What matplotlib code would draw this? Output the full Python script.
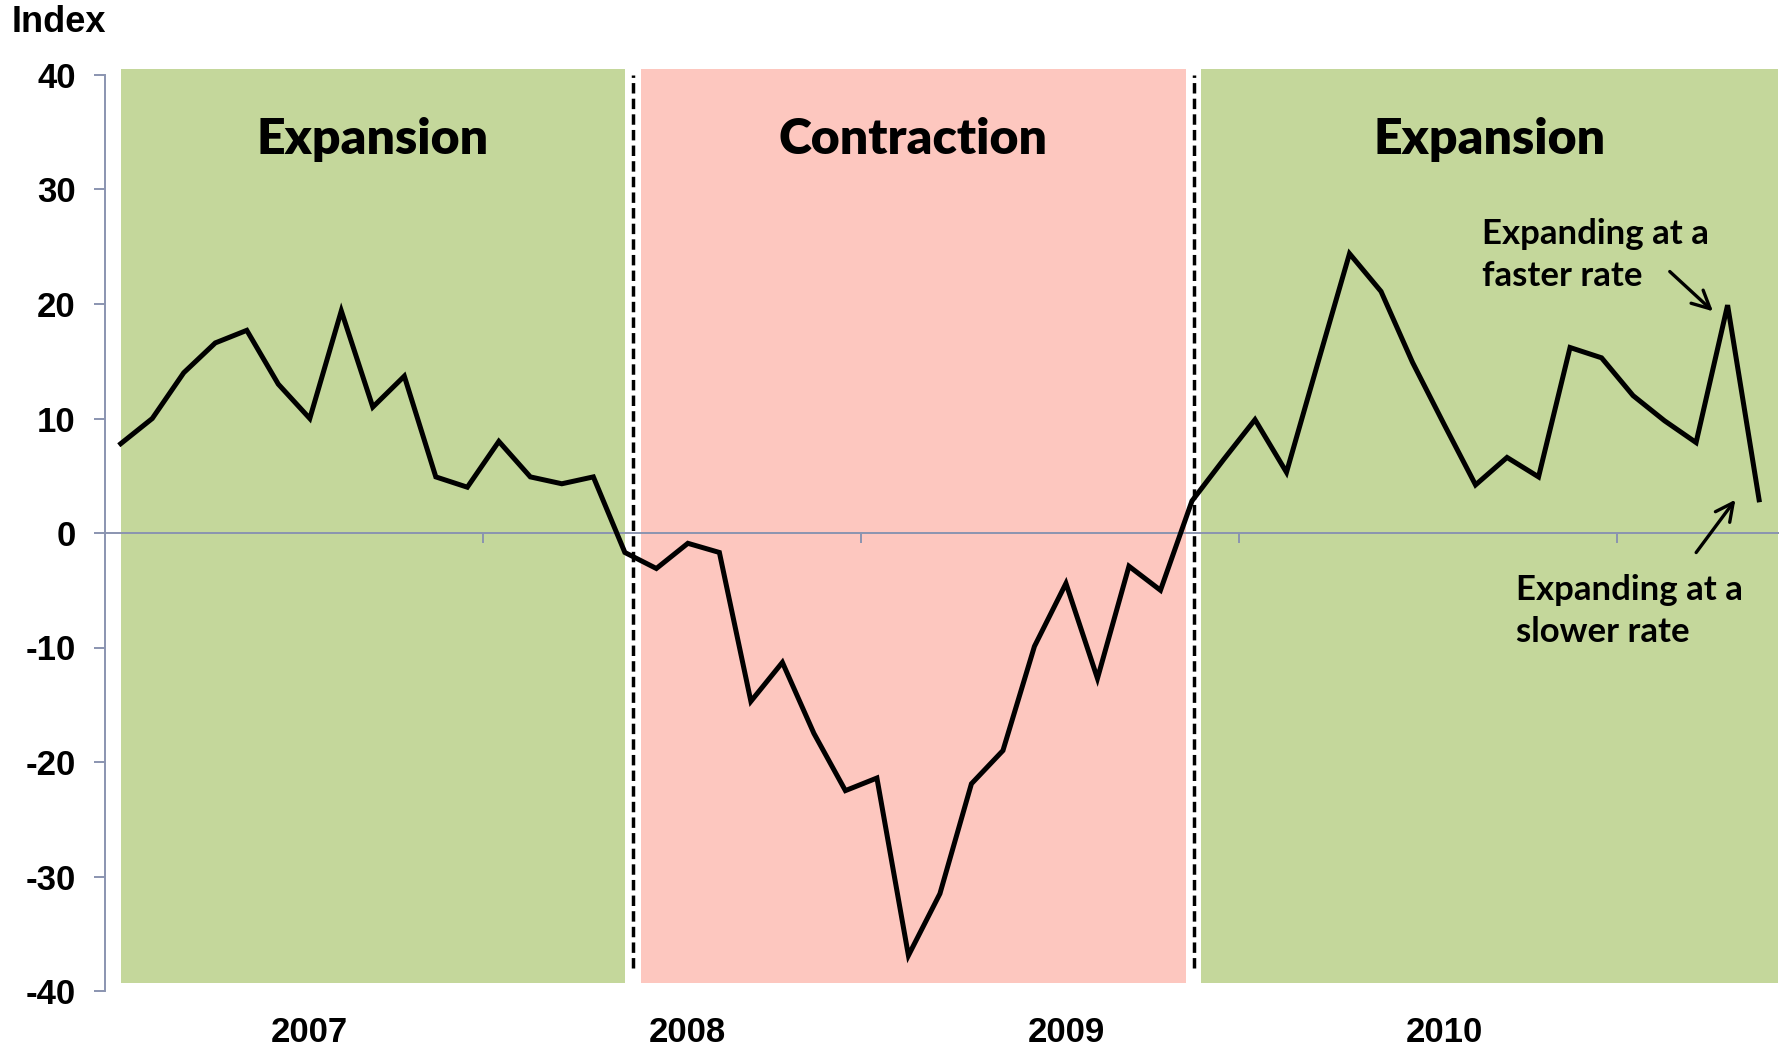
import matplotlib
matplotlib.use("Agg")
import matplotlib.pyplot as plt
from matplotlib.patches import Rectangle
from matplotlib import transforms

# ── data: monthly index values, mid-2006 .. late 2010 ──────────────
index_values = [
    7.8, 10.0, 14.0, 16.6, 17.7, 13.0, 10.0, 19.4, 11.0, 13.7, 4.9, 4.0,
    8.0, 4.9, 4.3, 4.9, -1.7, -3.1, -0.9, -1.7, -14.7, -11.3, -17.5, -22.5,
    -21.4, -36.9, -31.5, -21.9, -19.0, -9.9, -4.4, -12.7, -2.9, -5.0, 2.8, 6.4,
    9.9, 5.3, 14.9, 24.4, 21.1, 14.9, 9.5, 4.2, 6.6, 4.9, 16.2, 15.3,
    12.0, 9.8, 7.9, 19.9, 2.9,
]
year_labels = ["2007", "2008", "2009", "2010"]
year_label_pos = [6, 18, 30, 42]
year_ticks = [11.5, 23.5, 35.5, 47.5]

# phases: (start, end, label)
phases = [(0.0, 16.0, "Expansion"), (16.5, 33.8, "Contraction"), (34.3, 52.6, "Expansion")]
phase_breaks = [16.25, 34.05]

GREEN = "#C4D79B"
RED = "#FDC7BF"
AXIS = "#8A94B0"
NUM_FONT = ["Liberation Sans Narrow", "Liberation Sans", "DejaVu Sans"]

plt.rcParams["font.family"] = ["Lato", "DejaVu Sans"]
plt.rcParams["axes.unicode_minus"] = False

fig = plt.figure(figsize=(17.83, 10.5), dpi=100)
ax = fig.add_axes([105 / 1783, 59 / 1050, 1673 / 1783, 916 / 1050])

x = list(range(len(index_values)))

for start, end, label in phases:
    color = RED if label == "Contraction" else GREEN
    ax.add_patch(Rectangle((start, -39.3), end - start, 79.8, facecolor=color,
                           edgecolor="none", clip_on=False, zorder=0))
    ax.text((start + end) / 2, 34.4, label, ha="center", va="center",
            fontsize=36, fontweight="heavy", zorder=3)

for b in phase_breaks:
    ax.plot([b, b], [-38, 40], color="black", linestyle=(0, (3.0, 1.5)),
            linewidth=2.5, clip_on=False, zorder=2)

ax.plot(x, index_values, color="black", linewidth=3.6, zorder=4,
        solid_joinstyle="miter")

ax.set_xlim(-0.5, 52.6)
ax.set_ylim(-40, 40)
ax.set_yticks(range(-40, 41, 10))
ax.set_xticks(year_ticks)
ax.set_xticklabels([])

for s in ["top", "right"]:
    ax.spines[s].set_visible(False)
ax.spines["bottom"].set_position(("data", 0))
ax.spines["bottom"].set_color(AXIS)
ax.spines["left"].set_color(AXIS)
ax.spines["bottom"].set_linewidth(1.4)
ax.spines["left"].set_linewidth(1.4)
ax.spines["bottom"].set_zorder(1)
ax.tick_params(axis="x", direction="out", length=7, width=1.4, color=AXIS)
ax.tick_params(axis="y", direction="out", length=8, width=1.4, color=AXIS,
               pad=13, labelsize=25)
for lbl in ax.get_yticklabels():
    lbl.set_fontweight("bold")
    lbl.set_family(NUM_FONT)

trans = transforms.blended_transform_factory(ax.transData, fig.transFigure)
for pos, lbl in zip(year_label_pos, year_labels):
    ax.text(pos, 1 - 1033 / 1050, lbl, transform=trans, ha="center", va="center",
            fontsize=25, fontweight="bold", family=NUM_FONT)

fig.text(12 / 1783, 1 - 23 / 1050, "Index", ha="left", va="center",
         fontsize=26, fontweight="bold", family=NUM_FONT)

# annotations
arrow = dict(arrowstyle="->", color="black", lw=2.4, mutation_scale=32)
ax.annotate("", xy=(50.6, 19.2), xytext=(49.1, 23.0), arrowprops=arrow)
ax.text(43.2, 24.3, "Expanding at a\nfaster rate", ha="left", va="center",
        fontsize=25, fontweight="bold", linespacing=1.4, zorder=3)
ax.annotate("", xy=(51.3, 3.1), xytext=(49.95, -1.9), arrowprops=arrow)
ax.text(44.3, -6.8, "Expanding at a\nslower rate", ha="left", va="center",
        fontsize=25, fontweight="bold", linespacing=1.4, zorder=3)

fig.savefig("out.png", dpi=100)
